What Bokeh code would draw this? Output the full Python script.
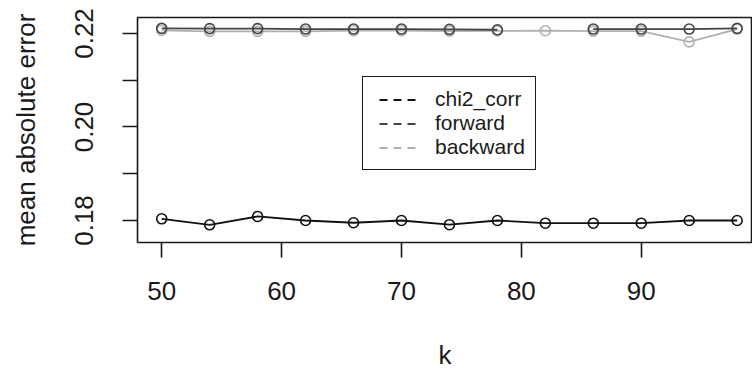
from bokeh.plotting import figure
from bokeh.models import Range1d, FixedTicker, Legend, LegendItem, CustomJSTickFormatter
from bokeh.embed import file_html
from bokeh.resources import INLINE

# ---- data ----
k_values = [50, 54, 58, 62, 66, 70, 74, 78, 82, 86, 90, 94, 98]
chi2_corr = [0.18036, 0.17908, 0.18086, 0.18000, 0.17951, 0.18000, 0.17910,
             0.18000, 0.17942, 0.17942, 0.17942, 0.18000, 0.18000]
forward = [0.22110, 0.22105, 0.22105, 0.22095, 0.22095, 0.22095, 0.22090,
           0.22080, float("nan"), 0.22095, 0.22095, 0.22095, 0.22110]
backward = [0.22065, 0.22045, 0.22045, 0.22045, 0.22060, 0.22060, 0.22050,
            0.22055, 0.22060, 0.22050, 0.22050, 0.21820, 0.22095]
x_ticks = [50, 60, 70, 80, 90]
y_ticks = [0.18, 0.19, 0.20, 0.21, 0.22]
series_names = ["chi2_corr", "forward", "backward"]
series_colors = ["#111111", "#444444", "#b0b0b0"]

FONT = "Liberation Sans"

p = figure(width=752, height=372, output_backend="svg", toolbar_location=None,
           x_range=Range1d(47.98, 99.28), y_range=Range1d(0.17529, 0.22342),
           min_border_left=137, min_border_right=0, min_border_top=17,
           min_border_bottom=130)
p.background_fill_color = "white"
p.border_fill_color = "white"
p.outline_line_color = "#1a1a1a"
p.outline_line_width = 1.6
p.xgrid.visible = False
p.ygrid.visible = False

# series (backward first so darker lines sit on top)
order = [(backward, series_colors[2]), (chi2_corr, series_colors[0]), (forward, series_colors[1])]
for ys, col in order:
    p.line(k_values, ys, line_color=col, line_width=1.8)
    p.scatter(k_values, ys, marker="circle", size=10, fill_color=None,
              line_color=col, line_width=1.6)

# legend with dashed samples (renderers hold no visible data)
nan = float("nan")
legend_items = []
for name, col in zip(series_names, series_colors):
    r = p.line(x=[k_values[0], k_values[1]], y=[nan, nan], line_color=col,
               line_width=1.8, line_dash="8 6", line_dash_offset=8)
    legend_items.append(LegendItem(label=name, renderers=[r]))
legend = Legend(items=legend_items, location=(225, 72))
legend.label_text_font = FONT
legend.label_text_font_size = "21px"
legend.label_text_color = "#1a1a1a"
legend.glyph_width = 46
legend.glyph_height = 23
legend.label_height = 23
legend.label_standoff = 16
legend.padding = 10
legend.spacing = 0
legend.margin = 0
legend.border_line_color = "#1a1a1a"
legend.border_line_width = 1.8
legend.border_line_alpha = 1.0
legend.background_fill_color = "white"
legend.background_fill_alpha = 1.0
p.add_layout(legend, "center")

# axes
for ax in (p.xaxis[0], p.yaxis[0]):
    ax.axis_line_color = None
    ax.major_tick_in = 0
    ax.major_tick_out = 15
    ax.major_tick_line_width = 1.6
    ax.major_tick_line_color = "#1a1a1a"
    ax.minor_tick_line_color = None
    ax.major_label_text_font = FONT
    ax.major_label_text_font_size = "26px"
    ax.major_label_text_color = "#1a1a1a"
    ax.axis_label_text_font = FONT
    ax.axis_label_text_font_size = "26px"
    ax.axis_label_text_font_style = "normal"
    ax.axis_label_text_color = "#1a1a1a"

p.xaxis.ticker = FixedTicker(ticks=x_ticks)
p.xaxis.axis_label = "k"
p.xaxis.major_label_standoff = 24
p.xaxis.axis_label_standoff = 37

p.yaxis.ticker = FixedTicker(ticks=y_ticks)
p.yaxis.formatter = CustomJSTickFormatter(code="""
    const n = Math.round(tick * 100);
    return (n % 2 == 0) ? tick.toFixed(2) : "";
""")
p.yaxis.major_label_orientation = "vertical"
p.yaxis.axis_label = "mean absolute error"
p.yaxis.major_label_standoff = 29
p.yaxis.axis_label_standoff = 32

open("out.html", "w").write(file_html(p, INLINE))
